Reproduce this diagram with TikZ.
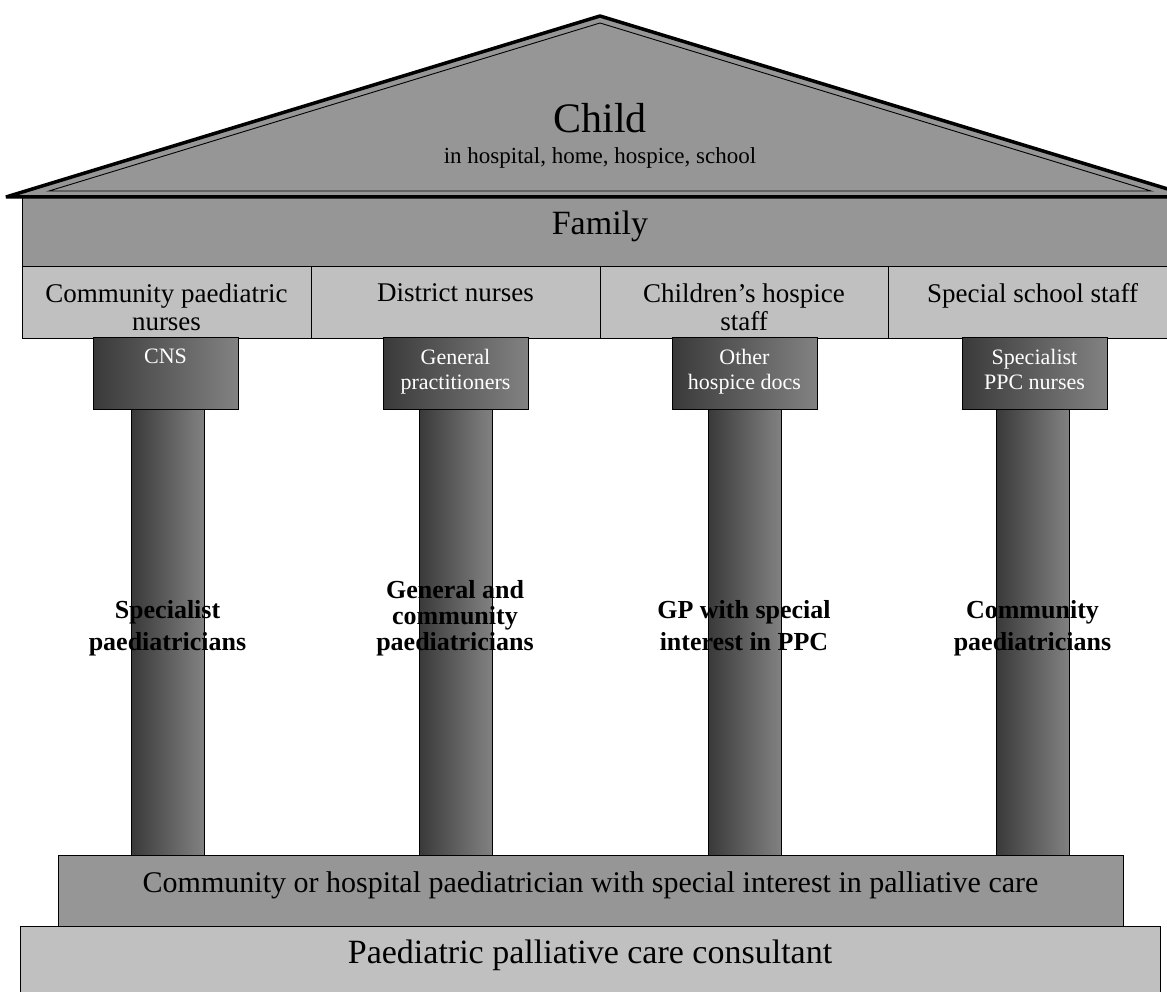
\documentclass[tikz,border=0pt]{standalone}
\usepackage{fontspec}
\setmainfont{Liberation Serif}
\definecolor{midgray}{RGB}{150,150,150}
\definecolor{palegray}{RGB}{192,192,192}
\definecolor{darkg}{RGB}{58,58,58}
\definecolor{lightg}{RGB}{130,130,130}
\begin{document}
\begin{tikzpicture}[x=1pt,y=-1pt,
  slab/.style={draw=black, line width=1.2pt, rectangle, inner sep=0pt, anchor=north west},
  capbox/.style={slab, left color=darkg, right color=lightg, minimum width=145pt, minimum height=72pt},
  shaft/.style={slab, left color=darkg, right color=lightg, minimum width=73pt, minimum height=446pt},
  rowbox/.style={slab, fill=palegray, minimum width=289pt, minimum height=72pt},
  rowtext/.style={anchor=north, inner sep=0pt, align=center, font=\fontsize{27}{28}\selectfont},
  captext/.style={anchor=north, inner sep=0pt, align=center, text=white, font=\fontsize{22}{25}\selectfont},
  coltext/.style={anchor=north, inner sep=0pt, align=center, font=\bfseries\fontsize{26}{32}\selectfont},
  coltextb/.style={coltext, font=\bfseries\fontsize{26}{26}\selectfont},
]
\useasboundingbox (0,0) rectangle (1167,992);
\clip (0,0) rectangle (1167,992);

% Family band
\node[slab, fill=midgray, minimum width=1155pt, minimum height=69pt] (fam) at (22,197) {};
\node[anchor=base, inner sep=0pt, font=\fontsize{34}{36}\selectfont] (famt) at (600,235) {Family};

% Roof
\draw[line width=3.5pt, fill=midgray, line join=bevel] (6,197) -- (600,16) -- (1194,197) -- cycle;
\draw[line width=0.9pt] (49,191) -- (600,23) -- (1151,191) -- cycle;
\node[anchor=base, inner sep=0pt, font=\fontsize{42}{44}\selectfont] (child) at (600,133) {Child};
\node[anchor=base, inner sep=0pt, font=\fontsize{23}{25}\selectfont] (where) at (600,164) {in hospital, home, hospice, school};

% Row of boxes
\node[rowbox] (r1) at (22,266) {};
\node[rowbox] (r2) at (311,266) {};
\node[rowbox] (r3) at (600,266) {};
\node[rowbox] (r4) at (888,266) {};
\node[rowtext] (r1t) at (166.5,283.5) {Community paediatric\\nurses};
\node[rowtext] (r2t) at (455.5,283.5) {District nurses};
\node[rowtext] (r3t) at (744,283.5) {Children’s hospice\\staff};
\node[rowtext] (r4t) at (1032.5,283.5) {Special school staff};

% Capitals
\node[capbox] (c1) at (93,337) {};
\node[capbox] (c2) at (383,337) {};
\node[capbox] (c3) at (672,337) {};
\node[capbox] (c4) at (962,337) {};
\node[captext] (c1t) at (165.5,349) {CNS};
\node[captext] (c2t) at (455.5,349) {General\\practitioners};
\node[captext] (c3t) at (744.5,349) {Other\\hospice docs};
\node[captext] (c4t) at (1034.5,349) {Specialist\\PPC nurses};

% Shafts
\node[shaft] (s1) at (131,409) {};
\node[shaft] (s2) at (419,409) {};
\node[shaft] (s3) at (708,409) {};
\node[shaft] (s4) at (996,409) {};
\node[coltext] (s1t) at (167.5,600.5) {Specialist\\paediatricians};
\node[coltextb] (s2t) at (455,580.5) {General and\\community\\paediatricians};
\node[coltext] (s3t) at (744,600.5) {GP with special\\interest in PPC};
\node[coltext] (s4t) at (1032.5,600.5) {Community\\paediatricians};

% Bases
\node[slab, fill=midgray, minimum width=1065pt, minimum height=71pt] (mid) at (58,855) {};
\node[anchor=base, inner sep=0pt, font=\fontsize{30}{32}\selectfont] (midt) at (590.5,892) {Community or hospital paediatrician with special interest in palliative care};
\node[slab, fill=palegray, minimum width=1140pt, minimum height=90pt] (bot) at (20,926) {};
\node[anchor=base, inner sep=0pt, font=\fontsize{34}{36}\selectfont] (bott) at (590,963) {Paediatric palliative care consultant};
\end{tikzpicture}
\end{document}
